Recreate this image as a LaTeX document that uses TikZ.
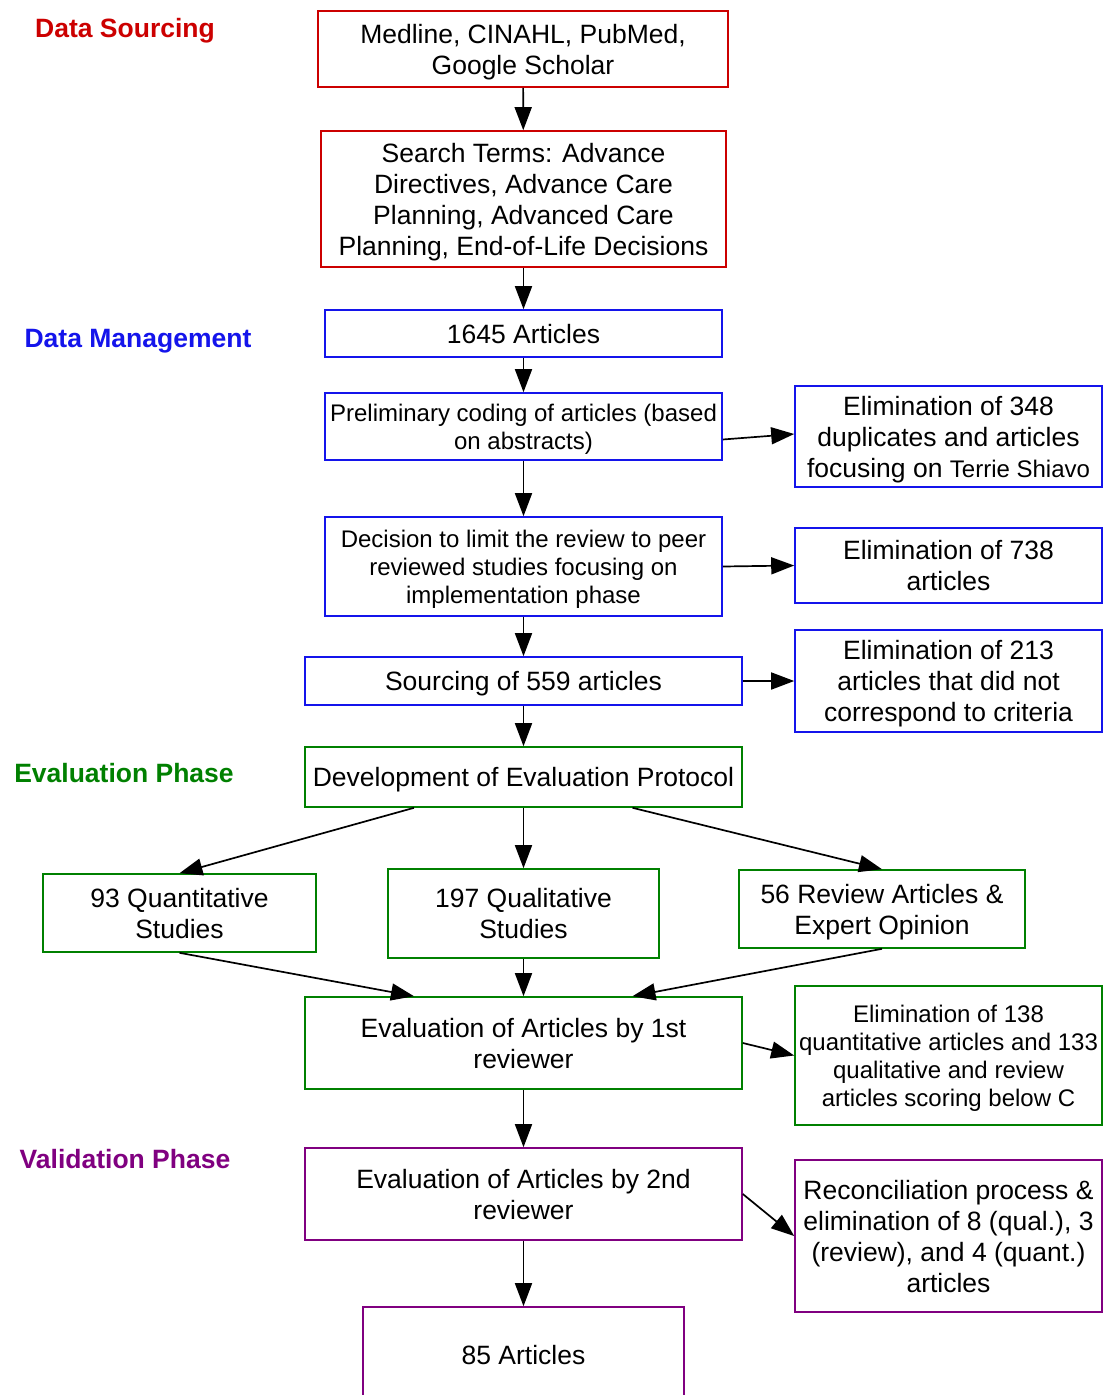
\documentclass[tikz,border=0pt]{standalone}
\usepackage{fontspec}
\setmainfont{Liberation Sans}
\usetikzlibrary{arrows.meta,calc}
\definecolor{cred}{RGB}{204,0,0}
\definecolor{cblue}{RGB}{20,20,235}
\definecolor{cgreen}{RGB}{0,128,0}
\definecolor{cpurple}{RGB}{128,0,128}
\newcommand{\bigfs}{\fontsize{26.5}{31}\selectfont}
\newcommand{\smallfs}{\fontsize{24}{28}\selectfont}
\begin{document}
\begin{tikzpicture}[x=1pt,y=-1pt,
  box/.style={draw, line width=1.6pt, align=center, inner sep=0pt, text depth=0pt, font=\bigfs, text=black},
  sbox/.style={box, font=\smallfs},
  lab/.style={font=\bfseries\bigfs, inner sep=0pt, text depth=0pt},
  arr/.style={-{Triangle[length=23pt,width=17pt]}, line width=1.7pt, black}]
\useasboundingbox (0,0) rectangle (1103,1395);
\fill[white] (0,0) rectangle (1103,1395);

% phase labels
\node[lab, text=cred] (l1) at (125,28) {Data Sourcing};
\node[lab, text=cblue] (l2) at (138,338) {Data Management};
\node[lab, text=cgreen] (l3) at (124,773) {Evaluation Phase};
\node[lab, text=cpurple] (l4) at (125,1159) {Validation Phase};

% data sourcing
\node[box, draw=cred, minimum width=410pt, minimum height=76pt] (n1) at (523,49) {Medline, CINAHL, PubMed,\\Google Scholar};
\node[box, draw=cred, minimum width=405pt, minimum height=136pt] (n2) at (523.5,199) {Search Terms: Advance\\Directives, Advance Care\\Planning, Advanced Care\\Planning, End-of-Life Decisions};

% data management
\node[box, draw=cblue, minimum width=397pt, minimum height=47pt] (n3) at (523.5,333.5) {1645 Articles};
\node[sbox, draw=cblue, minimum width=397pt, minimum height=67pt] (n4) at (523.5,426.5) {Preliminary coding of articles (based\\on abstracts)};
\node[box, draw=cblue, minimum width=307pt, minimum height=101pt] (n5) at (948.5,436.5) {Elimination of 348\\duplicates and articles\\focusing on {\fontsize{24}{31}\selectfont Terrie Shiavo}};
\node[sbox, draw=cblue, minimum width=397pt, minimum height=99pt] (n6) at (523.5,566.5) {Decision to limit the review to peer\\reviewed studies focusing on\\implementation phase};
\node[box, draw=cblue, minimum width=307pt, minimum height=75pt] (n7) at (948.5,565.5) {Elimination of 738\\articles};
\node[box, draw=cblue, minimum width=437pt, minimum height=48pt] (n8) at (523.5,681) {Sourcing of 559 articles};
\node[box, draw=cblue, minimum width=307pt, minimum height=102pt] (n9) at (948.5,681) {Elimination of 213\\articles that did not\\correspond to criteria};

% evaluation
\node[box, draw=cgreen, minimum width=437pt, minimum height=60pt] (n10) at (523.5,777) {Development of Evaluation Protocol};
\node[box, draw=cgreen, minimum width=273pt, minimum height=78pt] (n11) at (179.5,913) {93 Quantitative\\Studies};
\node[box, draw=cgreen, minimum width=271pt, minimum height=89pt] (n12) at (523.5,913.5) {197 Qualitative\\Studies};
\node[box, draw=cgreen, minimum width=286pt, minimum height=78pt] (n13) at (882,909) {56 Review Articles \&\\Expert Opinion};
\node[box, draw=cgreen, minimum width=437pt, minimum height=92pt] (n14) at (523.5,1043) {Evaluation of Articles by 1st\\reviewer};
\node[sbox, draw=cgreen, minimum width=307pt, minimum height=139pt] (n15) at (948.5,1055.5) {Elimination of 138\\quantitative articles and 133\\qualitative and review\\articles scoring below C};

% validation
\node[box, draw=cpurple, minimum width=437pt, minimum height=92pt] (n16) at (523.5,1194) {Evaluation of Articles by 2nd\\reviewer};
\node[box, draw=cpurple, minimum width=307pt, minimum height=152pt] (n17) at (948.5,1236) {Reconciliation process \&\\elimination of 8 (qual.), 3\\(review), and 4 (quant.)\\articles};
\node[box, draw=cpurple, minimum width=321pt, minimum height=96pt] (n18) at (523.5,1355) {85 Articles};

% connectors
\draw[arr] (n1) -- (n2);
\draw[arr] (n2) -- (n3);
\draw[arr] (n3) -- (n4);
\draw[arr] ($(n4.east)+(0,13)$) -- ($(n5.west)+(0,-2.5)$);
\draw[arr] (n4) -- (n6);
\draw[arr] (n6.east) -- (n7.west);
\draw[arr] (n6) -- (n8);
\draw[arr] (n8) -- (n9);
\draw[arr] (n8) -- (n10);
\draw[arr] ($(n10.south)+(-109.5,0)$) -- (n11.north);
\draw[arr] (n10) -- (n12);
\draw[arr] ($(n10.south)+(109,0)$) -- (n13.north);
\draw[arr] (n11.south) -- ($(n14.north)+(-109.5,0)$);
\draw[arr] (n12) -- (n14);
\draw[arr] (n13.south) -- ($(n14.north)+(109,0)$);
\draw[arr] (n14.east) -- (n15.west);
\draw[arr] (n14) -- (n16);
\draw[arr] (n16.east) -- (n17.west);
\draw[arr] (n16) -- (n18);
\end{tikzpicture}
\end{document}
